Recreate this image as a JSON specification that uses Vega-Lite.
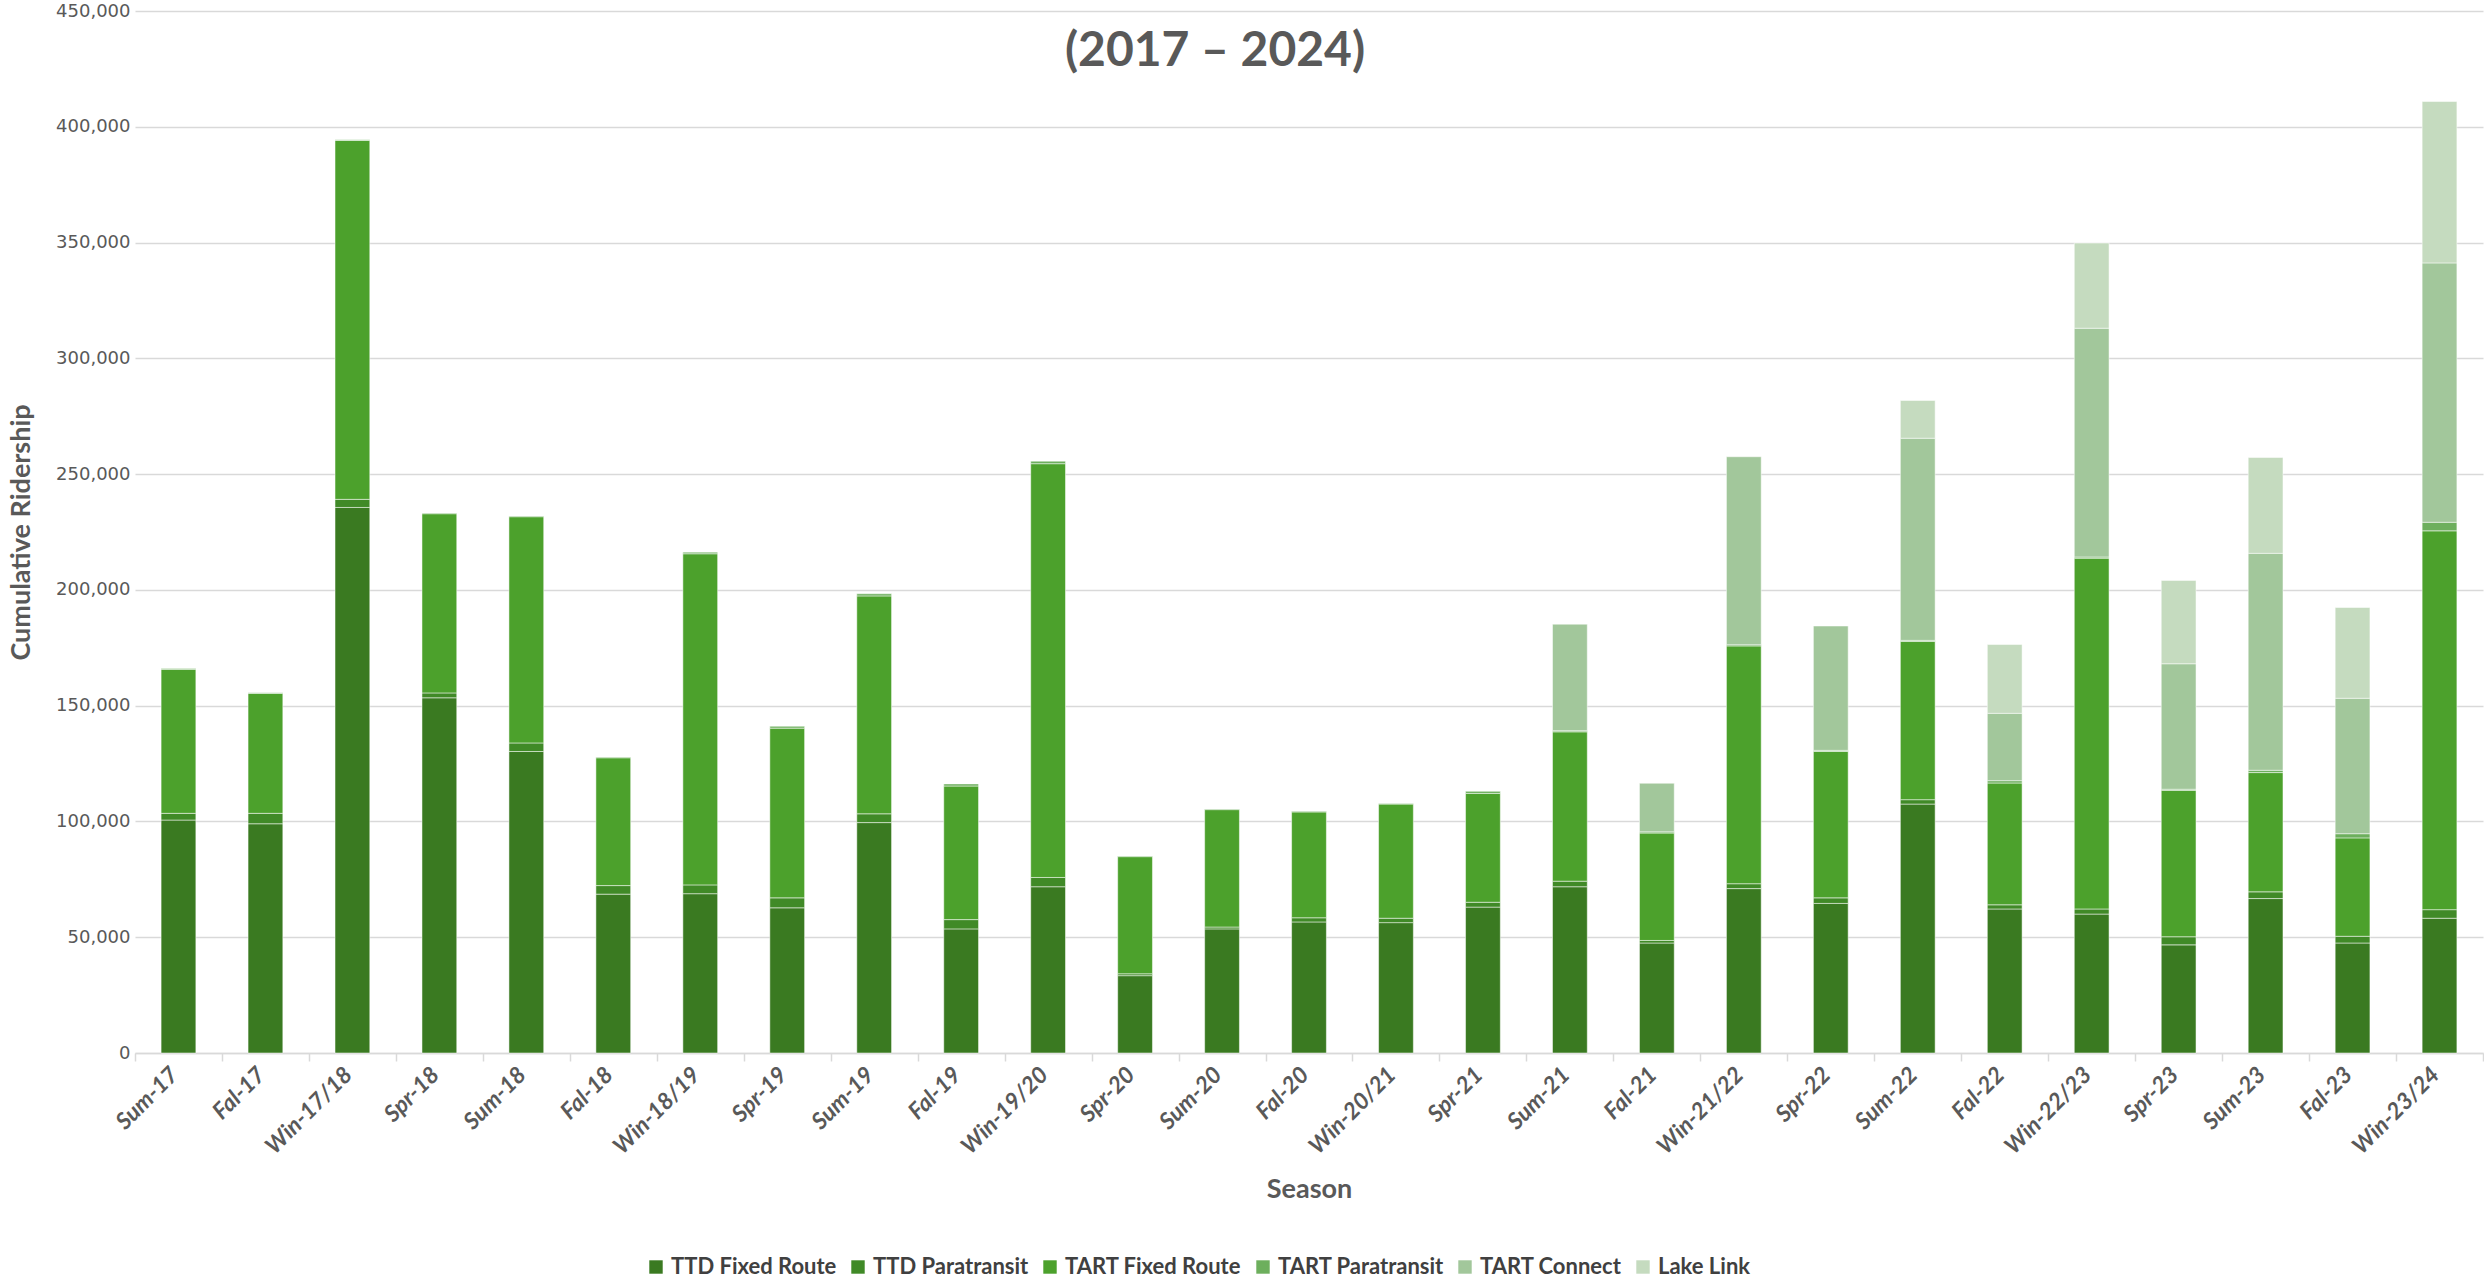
{
  "$schema": "https://vega.github.io/schema/vega-lite/v6.json",
  "width": 2348,
  "height": 1042,
  "autosize": {"type": "none"},
  "padding": {"left": 135, "top": 11, "right": 1, "bottom": 229},
  "background": "white",
  "title": {"text": "(2017 – 2024)", "font": "Lato", "fontSize": 48, "fontWeight": "bold", "color": "#595959", "anchor": "middle", "offset": -74, "dx": -94},
  "data": {"values": [
    {"season": "Sum-17", "TTD Fixed Route": 100600, "TTD Paratransit": 2900, "TART Fixed Route": 62200, "TART Paratransit": 300},
    {"season": "Fal-17", "TTD Fixed Route": 99000, "TTD Paratransit": 4500, "TART Fixed Route": 51800, "TART Paratransit": 300},
    {"season": "Win-17/18", "TTD Fixed Route": 235600, "TTD Paratransit": 3500, "TART Fixed Route": 155000, "TART Paratransit": 300},
    {"season": "Spr-18", "TTD Fixed Route": 153400, "TTD Paratransit": 2100, "TART Fixed Route": 77400, "TART Paratransit": 300},
    {"season": "Sum-18", "TTD Fixed Route": 130200, "TTD Paratransit": 3700, "TART Fixed Route": 97700, "TART Paratransit": 300},
    {"season": "Fal-18", "TTD Fixed Route": 68600, "TTD Paratransit": 3700, "TART Fixed Route": 55200, "TART Paratransit": 300},
    {"season": "Win-18/19", "TTD Fixed Route": 68800, "TTD Paratransit": 3800, "TART Fixed Route": 143000, "TART Paratransit": 700},
    {"season": "Spr-19", "TTD Fixed Route": 62700, "TTD Paratransit": 4300, "TART Fixed Route": 73300, "TART Paratransit": 800},
    {"season": "Sum-19", "TTD Fixed Route": 99500, "TTD Paratransit": 3800, "TART Fixed Route": 94100, "TART Paratransit": 900},
    {"season": "Fal-19", "TTD Fixed Route": 53600, "TTD Paratransit": 4000, "TART Fixed Route": 57700, "TART Paratransit": 900},
    {"season": "Win-19/20", "TTD Fixed Route": 71800, "TTD Paratransit": 4000, "TART Fixed Route": 178700, "TART Paratransit": 1100},
    {"season": "Spr-20", "TTD Fixed Route": 33400, "TTD Paratransit": 800, "TART Fixed Route": 50600, "TART Paratransit": 300},
    {"season": "Sum-20", "TTD Fixed Route": 53600, "TTD Paratransit": 800, "TART Fixed Route": 50700, "TART Paratransit": 300},
    {"season": "Fal-20", "TTD Fixed Route": 56600, "TTD Paratransit": 1800, "TART Fixed Route": 45700, "TART Paratransit": 300},
    {"season": "Win-20/21", "TTD Fixed Route": 56300, "TTD Paratransit": 1900, "TART Fixed Route": 49300, "TART Paratransit": 300},
    {"season": "Spr-21", "TTD Fixed Route": 63000, "TTD Paratransit": 2100, "TART Fixed Route": 47000, "TART Paratransit": 900},
    {"season": "Sum-21", "TTD Fixed Route": 71800, "TTD Paratransit": 2400, "TART Fixed Route": 64500, "TART Paratransit": 500, "TART Connect": 46000},
    {"season": "Fal-21", "TTD Fixed Route": 47500, "TTD Paratransit": 1100, "TART Fixed Route": 46400, "TART Paratransit": 500, "TART Connect": 21000},
    {"season": "Win-21/22", "TTD Fixed Route": 71000, "TTD Paratransit": 2100, "TART Fixed Route": 102700, "TART Paratransit": 500, "TART Connect": 81200},
    {"season": "Spr-22", "TTD Fixed Route": 64600, "TTD Paratransit": 2400, "TART Fixed Route": 63200, "TART Paratransit": 500, "TART Connect": 53700},
    {"season": "Sum-22", "TTD Fixed Route": 107500, "TTD Paratransit": 1900, "TART Fixed Route": 68300, "TART Paratransit": 500, "TART Connect": 87300, "Lake Link": 16300},
    {"season": "Fal-22", "TTD Fixed Route": 62200, "TTD Paratransit": 1800, "TART Fixed Route": 52600, "TART Paratransit": 1000, "TART Connect": 29100, "Lake Link": 29700},
    {"season": "Win-22/23", "TTD Fixed Route": 60000, "TTD Paratransit": 2200, "TART Fixed Route": 151500, "TART Paratransit": 500, "TART Connect": 98800, "Lake Link": 36800},
    {"season": "Spr-23", "TTD Fixed Route": 46700, "TTD Paratransit": 3500, "TART Fixed Route": 63200, "TART Paratransit": 500, "TART Connect": 54200, "Lake Link": 36000},
    {"season": "Sum-23", "TTD Fixed Route": 66700, "TTD Paratransit": 2900, "TART Fixed Route": 51500, "TART Paratransit": 1000, "TART Connect": 93700, "Lake Link": 41400},
    {"season": "Fal-23", "TTD Fixed Route": 47500, "TTD Paratransit": 2900, "TART Fixed Route": 42500, "TART Paratransit": 1800, "TART Connect": 58500, "Lake Link": 39200},
    {"season": "Win-23/24", "TTD Fixed Route": 58200, "TTD Paratransit": 3700, "TART Fixed Route": 163600, "TART Paratransit": 3700, "TART Connect": 112000, "Lake Link": 69700}
  ]},
  "transform": [
    {"fold": ["TTD Fixed Route", "TTD Paratransit", "TART Fixed Route", "TART Paratransit", "TART Connect", "Lake Link"], "as": ["series", "riders"]},
    {"filter": "datum.riders > 0"},
    {"calculate": "indexof(['TTD Fixed Route', 'TTD Paratransit', 'TART Fixed Route', 'TART Paratransit', 'TART Connect', 'Lake Link'], datum.series)", "as": "stack_rank"}
  ],
  "mark": {"type": "bar", "width": {"band": 0.4}, "stroke": "white", "strokeWidth": 1, "strokeOpacity": 0.5},
  "encoding": {
    "x": {
      "field": "season", "type": "nominal", "sort": null,
      "scale": {"paddingInner": 0, "paddingOuter": 0},
      "axis": {
        "title": "Season", "titleFont": "Lato", "titleFontSize": 27, "titleFontWeight": "bold", "titleColor": "#595959", "titlePadding": 18,
        "labelAngle": -45, "labelFont": "Lato", "labelFontStyle": "italic", "labelFontWeight": "bold", "labelFontSize": 23, "labelColor": "#595959", "labelPadding": 2, "labelOffset": -12,
        "tickBand": "extent", "tickColor": "#d9d9d9", "tickSize": 8, "tickWidth": 1.5,
        "domainColor": "#d9d9d9", "domainWidth": 1.5, "grid": false
      }
    },
    "y": {
      "field": "riders", "type": "quantitative", "stack": "zero",
      "scale": {"domain": [0, 450000], "nice": false},
      "axis": {
        "title": "Cumulative Ridership", "titleFont": "Lato", "titleFontSize": 27, "titleFontWeight": "bold", "titleColor": "#595959", "titlePadding": 20,
        "labelFont": "DejaVu Sans", "labelFontSize": 18, "labelColor": "#595959", "labelPadding": 5, "tickSize": 0,
        "format": ",d", "values": [0, 50000, 100000, 150000, 200000, 250000, 300000, 350000, 400000, 450000],
        "domain": false, "ticks": false, "gridColor": "#d9d9d9", "gridWidth": 1.5
      }
    },
    "color": {
      "field": "series", "type": "nominal",
      "scale": {
        "domain": ["TTD Fixed Route", "TTD Paratransit", "TART Fixed Route", "TART Paratransit", "TART Connect", "Lake Link"],
        "range": ["#3a7a21", "#408a27", "#4ca12c", "#6daf5d", "#a2c79b", "#c5dbbf"]
      },
      "legend": {
        "orient": "none", "legendX": 510, "legendY": 1245, "direction": "horizontal", "title": null,
        "labelFont": "Lato", "labelFontSize": 22, "labelFontWeight": "bold", "labelColor": "#404040", "labelLimit": 0,
        "symbolType": "square", "symbolSize": 180, "symbolStrokeWidth": 0, "columnPadding": 10, "labelOffset": 4
      }
    },
    "order": {"field": "stack_rank", "type": "quantitative"}
  },
  "config": {"view": {"stroke": null}}
}
